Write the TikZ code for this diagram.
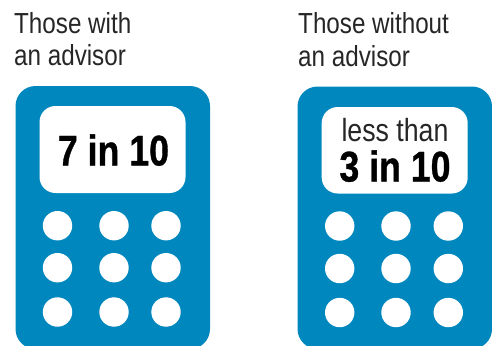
\documentclass[tikz,border=0pt]{standalone}
\usepackage{fontspec}
\setmainfont{Liberation Sans}
\newfontfamily\lightf[FakeStretch=0.835]{Liberation Sans}
\newfontfamily\boldf[FakeStretch=0.83,FakeBold=0.8]{Liberation Sans Bold}
\definecolor{bluebody}{RGB}{0,135,190}
\tikzset{
  body/.style={fill=bluebody,draw=none,rounded corners=20bp},
  screen/.style={fill=white,draw=none,rounded corners=16bp},
  key/.style={circle,fill=white,draw=none,minimum size=29.4bp,inner sep=0pt},
  title/.style={anchor=base west,inner sep=0pt,text=black!85,font=\lightf\fontsize{29bp}{31bp}\selectfont},
  big/.style={anchor=base,inner sep=0pt,text=black,font=\boldf\fontsize{43bp}{45bp}\selectfont},
  small/.style={anchor=base,inner sep=0pt,text=black!85,font=\lightf\fontsize{32bp}{34bp}\selectfont}
}
\begin{document}
\begin{tikzpicture}[x=1bp,y=-1bp]
\useasboundingbox (0,0) rectangle (492,345);
\clip (0,0) rectangle (492,345);
\fill[body] (15.5,86) rectangle (210,349);
\fill[screen] (39.5,106) rectangle (185.5,193);
\fill[body] (297.5,86.5) rectangle (492,349);
\fill[screen] (321.7,107) rectangle (467.7,193.5);
\foreach \yy [count=\r] in {225.7,267.7,312}{
  \foreach \xx [count=\c] in {57.5,114,166}{
    \node[key] (la\r\c) at (\xx,\yy) {};
  }
}
\foreach \yy [count=\r] in {226,268.5,312.5}{
  \foreach \xx [count=\c] in {339.7,396,448.3}{
    \node[key] (ra\r\c) at (\xx,\yy) {};
  }
}
\node[title] (t1a) at (14,33) {Those with};
\node[title] (t1b) at (14,65.5) {an advisor};
\node[title] (t2a) at (298,33.5) {Those without};
\node[title] (t2b) at (298,66) {an advisor};
\node[big] (v1) at (113.5,165.5) {7 in 10};
\node[small] (v2a) at (395,141) {less than};
\node[big] (v2b) at (395,181.5) {3 in 10};
\end{tikzpicture}
\end{document}
